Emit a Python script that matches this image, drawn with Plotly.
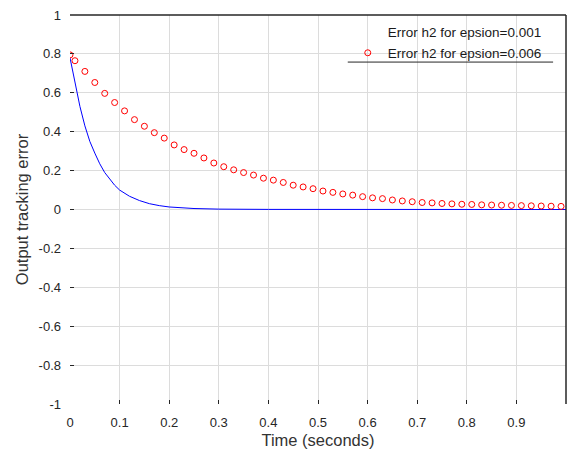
import plotly.graph_objects as go

# Blue curve: error h2 for epsion=0.001
t_blue = [0, 0.01, 0.02, 0.03, 0.04, 0.05, 0.06, 0.07, 0.08, 0.09, 0.10,
          0.12, 0.14, 0.16, 0.18, 0.20, 0.25, 0.30, 0.40, 0.50, 0.60, 0.70,
          0.80, 0.90, 1.00]
e_blue = [0.78, 0.65, 0.53, 0.43, 0.35, 0.29, 0.235, 0.19, 0.155, 0.125, 0.10,
          0.068, 0.046, 0.03, 0.02, 0.013, 0.005, 0.002, 0.0005, 0, 0, 0,
          0, 0, 0]

# Red markers: error h2 for epsion=0.006
t_red = [0, 0.01, 0.03, 0.05, 0.07, 0.09, 0.11, 0.13, 0.15, 0.17, 0.19,
         0.21, 0.23, 0.25, 0.27, 0.29, 0.31, 0.33, 0.35, 0.37, 0.39,
         0.41, 0.43, 0.45, 0.47, 0.49, 0.51, 0.53, 0.55, 0.57, 0.59,
         0.61, 0.63, 0.65, 0.67, 0.69, 0.71, 0.73, 0.75, 0.77, 0.79,
         0.81, 0.83, 0.85, 0.87, 0.89, 0.91, 0.93, 0.95, 0.97, 0.99]
e_red = [0.795, 0.765, 0.71, 0.653, 0.597, 0.55, 0.507, 0.462, 0.428, 0.395, 0.367,
         0.332, 0.308, 0.289, 0.265, 0.239, 0.22, 0.204, 0.19, 0.177, 0.161,
         0.151, 0.139, 0.125, 0.116, 0.107, 0.095, 0.088, 0.08, 0.074, 0.066,
         0.06, 0.056, 0.049, 0.044, 0.04, 0.036, 0.034, 0.031, 0.029, 0.027,
         0.026, 0.024, 0.023, 0.022, 0.021, 0.02, 0.019, 0.018, 0.017, 0.016]

x_ticks = [0, 0.1, 0.2, 0.3, 0.4, 0.5, 0.6, 0.7, 0.8, 0.9]
x_tick_text = ["0", "0.1", "0.2", "0.3", "0.4", "0.5", "0.6", "0.7", "0.8", "0.9"]
y_ticks = [-1, -0.8, -0.6, -0.4, -0.2, 0, 0.2, 0.4, 0.6, 0.8, 1]
y_tick_text = ["-1", "-0.8", "-0.6", "-0.4", "-0.2", "0", "0.2", "0.4", "0.6", "0.8", "1"]

name_blue = "Error h2 for epsion=0.001"
name_red = "Error h2 for epsion=0.006"

FONT = "Liberation Sans, Arial, sans-serif"

fig = go.Figure()
fig.add_trace(go.Scatter(x=t_blue, y=e_blue, mode="lines",
                         line=dict(color="#0000ff", width=1),
                         showlegend=False, name=name_blue))
# legend entry for blue series (sample not visible in the original)
fig.add_trace(go.Scatter(x=[None], y=[None], mode="lines",
                         line=dict(color="rgba(0,0,0,0)", width=1),
                         name=name_blue))
fig.add_trace(go.Scatter(x=t_red, y=e_red, mode="markers",
                         marker=dict(symbol="circle-open", color="#ff0000", size=6,
                                     line=dict(width=1, color="#ff0000")),
                         name=name_red))

grid = "#dcdcdc"
fig.update_layout(
    width=568, height=457,
    margin=dict(l=70, r=2, t=15, b=53),
    paper_bgcolor="white", plot_bgcolor="white",
    font=dict(family=FONT, size=13, color="#262626"),
    xaxis=dict(range=[0, 1], tickvals=x_ticks, ticktext=x_tick_text,
               showgrid=True, gridcolor=grid, gridwidth=1,
               zeroline=False, showline=False,
               ticks="inside", ticklen=4, tickcolor="#262626",
               ticklabelstandoff=9,
               title=dict(text="Time (seconds)", font=dict(size=16.5, color="#333333"), standoff=5)),
    yaxis=dict(range=[-1, 1], tickvals=y_ticks, ticktext=y_tick_text,
               showgrid=True, gridcolor=grid, gridwidth=1,
               zeroline=False, showline=False,
               ticks="inside", ticklen=4, tickcolor="#262626",
               ticklabelstandoff=8,
               title=dict(text="Output tracking error", font=dict(size=16.5, color="#333333"), standoff=5)),
    legend=dict(x=0.56, y=0.995, xanchor="left", yanchor="top",
                bgcolor="rgba(0,0,0,0)", borderwidth=0,
                font=dict(size=13.5, color="#1a1a1a"),
                tracegroupgap=0, itemwidth=30),
    shapes=[
        dict(type="line", xref="paper", yref="paper", x0=0, x1=1, y0=1, y1=1,
             line=dict(color="#262626", width=1.5)),
        dict(type="line", xref="paper", yref="paper", x0=1, x1=1, y0=0, y1=1,
             line=dict(color="#262626", width=1.5)),
        dict(type="line", xref="paper", yref="paper", x0=0.56, x1=0.974,
             y0=0.879, y1=0.879, line=dict(color="#262626", width=1)),
    ],
)

fig.write_html("out.html")
